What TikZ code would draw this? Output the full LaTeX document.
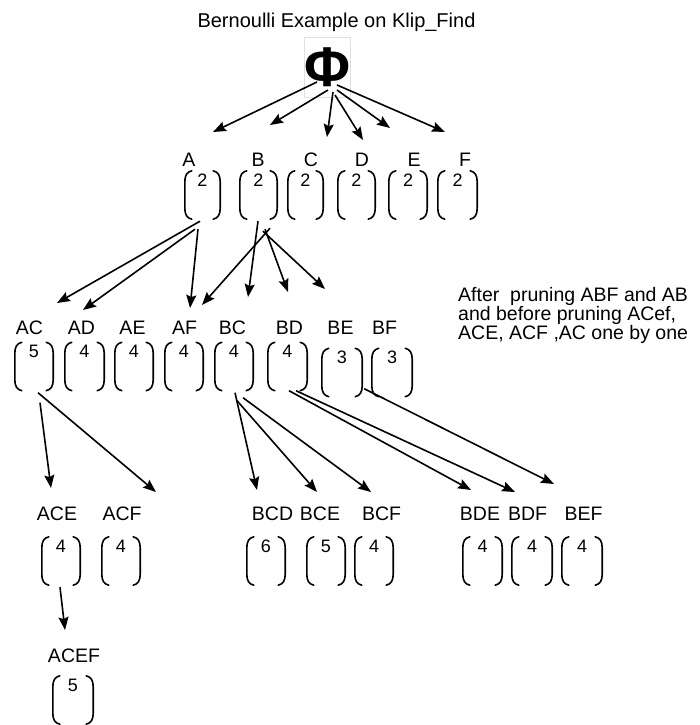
\documentclass[tikz,border=0pt]{standalone}
\usepackage{fontspec}
\setmainfont{Liberation Sans}
\usetikzlibrary{arrows.meta}

% draws the tall round brackets round a vector node
\newcommand\vecbrackets[1]{%
  \draw[brk] ([xshift=7pt]#1.north west) .. controls ([xshift=2pt,yshift=-1pt]#1.north west) and ([yshift=-5pt]#1.north west) .. ([yshift=-11pt]#1.north west)
    -- ([yshift=11pt]#1.south west) .. controls ([yshift=5pt]#1.south west) and ([xshift=2pt,yshift=1pt]#1.south west) .. ([xshift=7pt]#1.south west);
  \draw[brk] ([xshift=-7pt]#1.north east) .. controls ([xshift=-2pt,yshift=-1pt]#1.north east) and ([yshift=-5pt]#1.north east) .. ([yshift=-11pt]#1.north east)
    -- ([yshift=11pt]#1.south east) .. controls ([yshift=5pt]#1.south east) and ([xshift=-2pt,yshift=1pt]#1.south east) .. ([xshift=-7pt]#1.south east);
}

\begin{document}
\begin{tikzpicture}[x=1pt,y=-1pt,
  lbl/.style={font=\fontsize{19.5}{20}\selectfont, anchor=base, inner sep=0pt},
  vecbox/.style={minimum width=#1, inner sep=0pt, text height=15pt, text depth=33pt,
                 font=\fontsize{18}{18}\selectfont},
  vecbox/.default=38pt,
  brk/.style={line width=1.6pt, line cap=round},
  arr/.style={line width=1.6pt, -{Stealth[length=13pt,width=10pt,inset=2pt]}}]

\useasboundingbox (0,0) rectangle (700,725);

% title and root
\node[lbl, font=\fontsize{20}{20}\selectfont] (title) at (336.5,28) {Bernoulli Example on Klip\_Find};
\node[draw=black!12, line width=0.5pt, minimum width=45pt, minimum height=60pt, inner sep=0pt,
      font=\fontsize{56}{56}\selectfont\bfseries] (phi) at (327.5,67) {Φ};

% level 1
\node[lbl] (lA) at (189,166) {A};
\node[lbl] (lB) at (258,166) {B};
\node[lbl] (lC) at (311,166) {C};
\node[lbl] (lD) at (362,166) {D};
\node[lbl] (lE) at (414,166) {E};
\node[lbl] (lF) at (465,166) {F};
\node[vecbox=35pt] (A) at (202.5,195) {2};
\node[vecbox=37pt] (B) at (258.5,195) {2};
\node[vecbox=35pt] (C) at (305.5,195) {2};
\node[vecbox=37pt] (D) at (356.5,195) {2};
\node[vecbox=38pt] (E) at (408,195) {2};
\node[vecbox=39pt] (F) at (457.5,195) {2};

% level 2
\node[lbl] (lAC) at (29.5,334) {AC};
\node[lbl] (lAD) at (81.5,334) {AD};
\node[lbl] (lAE) at (132.5,334) {AE};
\node[lbl] (lAF) at (184.5,334) {AF};
\node[lbl] (lBC) at (232.5,334) {BC};
\node[lbl] (lBD) at (289.5,334) {BD};
\node[lbl] (lBE) at (340.5,334) {BE};
\node[lbl] (lBF) at (384.5,334) {BF};
\node[vecbox] (AC) at (34,366.5) {5};
\node[vecbox=39pt] (AD) at (84.5,366.5) {4};
\node[vecbox] (AE) at (134,366.5) {4};
\node[vecbox] (AF) at (184,366.5) {4};
\node[vecbox] (BC) at (234,366.5) {4};
\node[vecbox=39pt] (BD) at (287.5,366.5) {4};
\node[vecbox=40pt] (BE) at (342,372.5) {3};
\node[vecbox=40pt] (BF) at (392,372.5) {3};

% level 3
\node[lbl] (lACE) at (57,520) {ACE};
\node[lbl] (lACF) at (122,520) {ACF};
\node[lbl] (lBCD) at (272.5,520) {BCD};
\node[lbl] (lBCE) at (320,520) {BCE};
\node[lbl] (lBCF) at (381.5,520) {BCF};
\node[lbl] (lBDE) at (480,520) {BDE};
\node[lbl] (lBDF) at (527.5,520) {BDF};
\node[lbl] (lBEF) at (583.5,520) {BEF};
\node[vecbox] (ACE) at (61,561) {4};
\node[vecbox] (ACF) at (121,561) {4};
\node[vecbox] (BCD) at (266,561) {6};
\node[vecbox] (BCE) at (326,561) {5};
\node[vecbox] (BCF) at (374,561) {4};
\node[vecbox=39pt] (BDE) at (482.5,561) {4};
\node[vecbox=40pt] (BDF) at (532,561) {4};
\node[vecbox=40pt] (BEF) at (582,561) {4};

% level 4
\node[lbl] (lACEF) at (74,662) {ACEF};
\node[vecbox=40pt] (ACEF) at (73,700) {5};

% side note
\node[anchor=north west, align=left, inner sep=0pt, font=\fontsize{19.5}{17.5}\selectfont] (note) at (458,287)
  {After\ \ pruning ABF and AB\\and before pruning ACef,\\ACE, ACF ,AC one by one};

% brackets of every vector
\foreach \n in {A,B,C,D,E,F,AC,AD,AE,AF,BC,BD,BE,BF,ACE,ACF,BCD,BCE,BCF,BDE,BDF,BEF,ACEF}
  {\vecbrackets{\n}}

% free arrow ends
\coordinate (tA) at (213,132);
\coordinate (tB) at (270,125);
\coordinate (tC) at (327,137);
\coordinate (tD) at (363,140);
\coordinate (tE) at (390,128);
\coordinate (tF) at (445,132);
\coordinate (tAC) at (57,303);
\coordinate (tAD) at (83,310);
\coordinate (tAF) at (190,308);
\coordinate (tBAF) at (202,305);
\coordinate (tBC) at (248,297);
\coordinate (tBD) at (288,292);
\coordinate (tBE) at (325,289);
\coordinate (tACE) at (51,488);
\coordinate (tACF) at (156,492);
\coordinate (tBCD) at (257,490);
\coordinate (tBCE) at (317,492);
\coordinate (tBCF) at (371,492);
\coordinate (tBDE) at (471,490);
\coordinate (tBDF) at (515,492);
\coordinate (tBEF) at (554,484);
\coordinate (tACEF) at (65,630);

% root to singletons
\draw[arr] ([shift={(-10.5,15)}]phi.center) -- (tA);
\draw[arr] ([shift={(0.5,23)}]phi.center) -- (tB);
\draw[arr] ([shift={(5.5,25)}]phi.center) -- (tC);
\draw[arr] ([shift={(7.5,28)}]phi.center) -- (tD);
\draw[arr] ([shift={(9.5,23)}]phi.center) -- (tE);
\draw[arr] ([shift={(9.5,18)}]phi.center) -- (tF);

% singletons to pairs
\draw[arr] ([shift={(-2.5,2)}]A.south) -- (tAC);
\draw[arr] ([shift={(-7.5,10)}]A.south) -- (tAD);
\draw[arr] ([shift={(-4.5,10)}]A.south) -- (tAF);
\draw[arr] ([shift={(11.5,9)}]B.south) -- (tBAF);
\draw[arr] ([shift={(-0.5,2)}]B.south) -- (tBC);
\draw[arr] ([shift={(6.5,10)}]B.south) -- (tBD);
\draw[arr] ([shift={(4.5,12)}]B.south) -- (tBE);

% pairs to triples
\draw[arr] ([shift={(6,12)}]AC.south) -- (tACE);
\draw[arr] ([shift={(4,2)}]AC.south) -- (tACF);
\draw[arr] ([shift={(1,2)}]BC.south) -- (tBCD);
\draw[arr] ([shift={(3,10)}]BC.south) -- (tBCE);
\draw[arr] ([shift={(9,7)}]BC.south) -- (tBCF);
\draw[arr] ([shift={(1.5,0)}]BD.south) -- (tBDE);
\draw[arr] ([shift={(8.5,0)}]BD.south) -- (tBDF);
\draw[arr] ([shift={(2,-8)}]BE.south east) -- (tBEF);

% triple to quadruple
\draw[arr] ([shift={(-1,2)}]ACE.south) -- (tACEF);
\end{tikzpicture}
\end{document}
